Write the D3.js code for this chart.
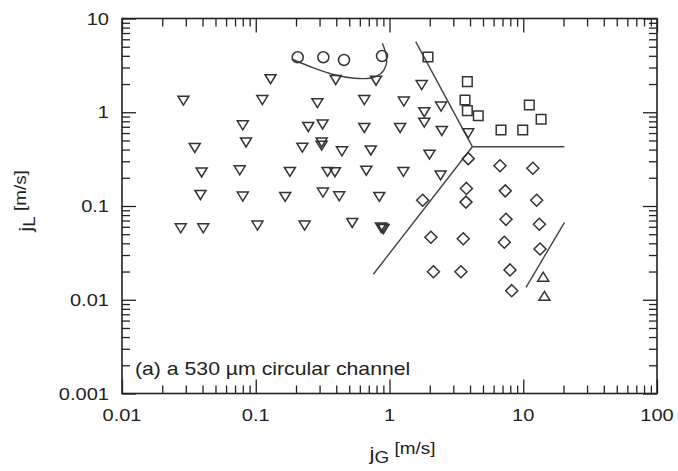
<!DOCTYPE html>
<html>
<head>
<meta charset="utf-8">
<script src="https://cdn.jsdelivr.net/npm/d3@7"></script>
<style>
  html, body { margin: 0; padding: 0; background: #fff; }
  svg { display: block; }
  text { font-family: "Liberation Sans", Arial, sans-serif; fill: #222; }
</style>
</head>
<body>
<svg id="chart" width="678" height="471"></svg>
<script>
// ---- data (jG [m/s], jL [m/s]) ----
const triangleDown = [
  [0.129,2.25],[0.0288,1.33],[0.112,1.35],[0.289,1.25],[0.648,1.35],[0.396,2.21],[0.793,2.17],
  [0.080,0.726],[0.247,0.696],[0.316,0.740],[0.648,0.679],[1.20,0.679],
  [0.035,0.416],[0.0846,0.476],[0.223,0.419],[0.311,0.476],[0.311,0.440],[0.441,0.383],[0.725,0.391],
  [0.0394,0.228],[0.0759,0.240],[0.180,0.231],[0.344,0.231],[0.391,0.229],[0.671,0.238],[1.27,0.231],
  [0.0386,0.131],[0.080,0.126],[0.166,0.125],[0.318,0.139],[0.421,0.127],[0.839,0.125],
  [0.0275,0.0578],[0.0405,0.0578],[0.103,0.0619],[0.232,0.0619],[0.526,0.0659],[0.864,0.059],[0.902,0.0569],[0.88,0.0575],
  [1.74,1.95],[1.28,1.30],[1.82,1.00],[2.43,1.15],[1.82,0.774],[2.46,0.631],[3.88,0.596],[1.99,0.353],[2.41,0.212]
];
const circles = [[0.206,3.86],[0.320,3.86],[0.457,3.61],[0.879,3.98]];
const squares = [[1.94,3.88],[3.82,2.12],[3.67,1.35],[3.82,1.04],[4.61,0.919],[6.82,0.647],[9.91,0.647],[11.1,1.195],[13.6,0.841]];
const diamonds = [
  [3.88,0.320],[6.70,0.269],[11.8,0.253],[3.76,0.154],[3.73,0.110],[7.34,0.145],[12.6,0.115],[1.77,0.115],
  [7.43,0.0721],[13.2,0.0638],[2.04,0.0464],[3.56,0.0447],[7.22,0.041],[13.35,0.0348],
  [2.13,0.0199],[3.42,0.0199],[7.96,0.0208],[8.20,0.0125]
];
const triangleUp = [[14.1,0.0176],[14.4,0.011]];

// transition boundaries
const boundaryCurve = [[0.1857,3.70],[0.1857,3.70],[0.268,2.96],[0.378,2.50],[0.552,2.27],[0.753,2.28],[0.87,2.55],[0.95,3.1],[0.96,3.9],[0.92,4.7],[0.885,5.45],[0.885,5.45]];
const boundaryUpper = [[1.57,5.66],[4.16,0.429]];
const boundaryHoriz = [[4.16,0.429],[20.3,0.429]];
const boundaryLower = [[4.16,0.429],[0.757,0.0187]];
const boundaryRight = [[10.49,0.01358],[20.3,0.0664]];

const xTicks = [0.01, 0.1, 1, 10, 100];
const xTickLabels = ["0.01", "0.1", "1", "10", "100"];
const yTicks = [0.001, 0.01, 0.1, 1, 10];
const yTickLabels = ["0.001", "0.01", "0.1", "1", "10"];
const annotation = "(a) a 530 \u00b5m circular channel";

// ---- layout ----
const svg = d3.select("#chart");
const L = 122, R = 657, T = 18.5, B = 393.5;
const x = d3.scaleLog().domain([0.01, 100]).range([L, R]);
const y = d3.scaleLog().domain([0.001, 10]).range([B, T]);
const SX = 1.18; // horizontal stretch of the source image's lettering

function stretchedText(px, py, str, size, anchor) {
  return svg.append("text")
    .attr("transform", `translate(${px},${py}) scale(${SX},1)`)
    .attr("text-anchor", anchor || "start")
    .style("font-size", size + "px")
    .text(str);
}

// minor tick values
const minorX = [], minorY = [];
for (let d = -2; d < 2; d++) for (let k = 2; k <= 9; k++) minorX.push(k * Math.pow(10, d));
for (let d = -3; d < 1; d++) for (let k = 2; k <= 9; k++) minorY.push(k * Math.pow(10, d));

const axisColor = "#222";
const majLen = 14, minLen = 8;

function drawAxis(axisGen, transform) {
  const g = svg.append("g").attr("transform", transform).call(axisGen);
  g.select(".domain").remove();
  g.selectAll("line").attr("stroke", axisColor).attr("stroke-width", 1.3);
  g.selectAll("text").remove();
  return g;
}
// bottom
drawAxis(d3.axisBottom(x).tickValues(xTicks).tickSize(-majLen), `translate(0,${B})`);
drawAxis(d3.axisBottom(x).tickValues(minorX).tickSize(-minLen), `translate(0,${B})`);
// top
drawAxis(d3.axisTop(x).tickValues(xTicks).tickSize(-majLen), `translate(0,${T})`);
drawAxis(d3.axisTop(x).tickValues(minorX).tickSize(-minLen), `translate(0,${T})`);
// left
drawAxis(d3.axisLeft(y).tickValues(yTicks).tickSize(-majLen), `translate(${L},0)`);
drawAxis(d3.axisLeft(y).tickValues(minorY).tickSize(-minLen), `translate(${L},0)`);
// right
drawAxis(d3.axisRight(y).tickValues(yTicks).tickSize(-majLen), `translate(${R},0)`);
drawAxis(d3.axisRight(y).tickValues(minorY).tickSize(-minLen), `translate(${R},0)`);

// frame
svg.append("rect").attr("x", L).attr("y", T).attr("width", R - L).attr("height", B - T)
  .attr("fill", "none").attr("stroke", axisColor).attr("stroke-width", 1.6);

// tick labels
xTicks.forEach((v, i) => stretchedText(x(v), B + 27, xTickLabels[i], 17, "middle"));
yTicks.forEach((v, i) => stretchedText(L - 13, y(v) + 6, yTickLabels[i], 17, "end"));

// axis titles
const xt = svg.append("text")
  .attr("transform", `translate(${(L + R) / 2 + 13},460) scale(${SX},1)`)
  .attr("text-anchor", "middle");
xt.append("tspan").style("font-size", "19px").text("j");
xt.append("tspan").style("font-size", "16px").attr("dy", 3).text("G");
xt.append("tspan").style("font-size", "16px").attr("dy", -9).text(" [m/s]");

const yt = svg.append("text")
  .attr("transform", `translate(32,201) rotate(-90) scale(${SX},1)`)
  .attr("text-anchor", "middle");
yt.append("tspan").style("font-size", "19px").text("j");
yt.append("tspan").style("font-size", "16px").attr("dy", 3).text("L");
yt.append("tspan").style("font-size", "16px").attr("dy", -9).text(" [m/s]");

// annotation
stretchedText(135, 375, annotation, 18, "start");

// boundary lines
const lineGen = d3.line().x(d => x(d[0])).y(d => y(d[1]));
const curveGen = d3.line().x(d => x(d[0])).y(d => y(d[1])).curve(d3.curveBasis);
const lineColor = "#444";
[boundaryUpper, boundaryHoriz, boundaryLower, boundaryRight].forEach(b => {
  svg.append("path").attr("d", lineGen(b)).attr("fill", "none")
    .attr("stroke", lineColor).attr("stroke-width", 1.4);
});
svg.append("path").attr("d", curveGen(boundaryCurve)).attr("fill", "none")
  .attr("stroke", lineColor).attr("stroke-width", 1.4);

// markers
const mk = "#333", mw = 1.5;
const shapes = {
  triDown: "M-5.5,-4.5H5.5L0,4.5Z",
  triUp: "M-5.5,4.5H5.5L0,-4.5Z",
  square: "M-4.8,-4.8H4.8V4.8H-4.8Z",
  diamond: "M0,-6L6,0L0,6L-6,0Z"
};
function drawPaths(data, d) {
  svg.append("g").selectAll("path").data(data).join("path")
    .attr("transform", p => `translate(${x(p[0])},${y(p[1])})`)
    .attr("d", d).attr("fill", "none").attr("stroke", mk).attr("stroke-width", mw)
    .attr("stroke-linejoin", "miter");
}
drawPaths(triangleDown, shapes.triDown);
drawPaths(triangleUp, shapes.triUp);
drawPaths(squares, shapes.square);
drawPaths(diamonds, shapes.diamond);
svg.append("g").selectAll("circle").data(circles).join("circle")
  .attr("cx", p => x(p[0])).attr("cy", p => y(p[1])).attr("r", 5.5)
  .attr("fill", "none").attr("stroke", mk).attr("stroke-width", mw);
</script>
</body>
</html>
